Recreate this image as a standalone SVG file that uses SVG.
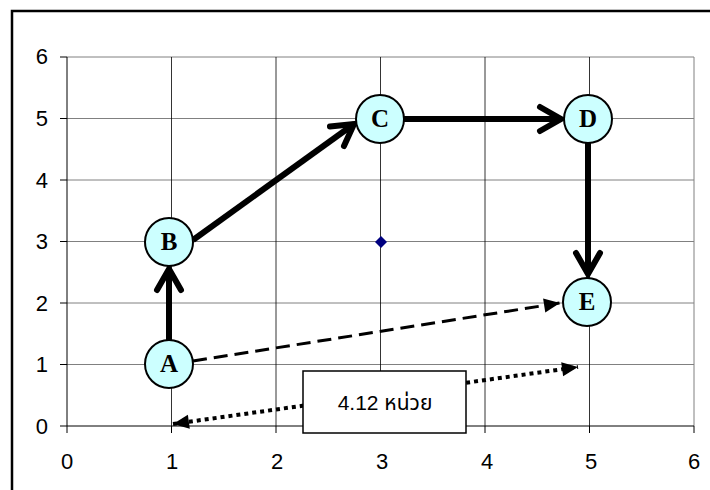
<svg xmlns="http://www.w3.org/2000/svg" width="710" height="490" viewBox="0 0 710 490">
<defs>
<style>
.hgrid{stroke:#808080;stroke-width:1;fill:none}
.vgrid{stroke:#000;stroke-width:0.8;fill:none}
.axis{stroke:#000;stroke-width:1;fill:none}
.tick{font-family:"Liberation Sans",Arial,sans-serif;font-size:22px;fill:#000}
.node circle{fill:#CCFFFF;stroke:#000;stroke-width:2}
.node text{font-family:"Liberation Serif","Times New Roman",serif;font-weight:bold;font-size:25px;fill:#000;text-anchor:middle}
.thick{stroke:#000;stroke-width:6;fill:none;marker-end:url(#chev)}
.dash{stroke:#000;stroke-width:3;fill:none;stroke-dasharray:14 7;marker-end:url(#tri)}
.dot{stroke:#000;stroke-width:4;fill:none;stroke-dasharray:4 4;marker-start:url(#triS);marker-end:url(#tri)}
</style>
<marker id="chev" markerUnits="userSpaceOnUse" markerWidth="40" markerHeight="40" viewBox="-30 -20 40 40" refX="0" refY="0" orient="auto" overflow="visible">
<path d="M-21,-12 L0,0 L-21,12" fill="none" stroke="#000" stroke-width="6" stroke-linecap="round" stroke-linejoin="miter"/>
</marker>
<marker id="tri" markerUnits="userSpaceOnUse" markerWidth="30" markerHeight="30" viewBox="-20 -10 30 20" refX="0" refY="0" orient="auto" overflow="visible">
<path d="M-16,-7 L0,0 L-16,7 Z" fill="#000"/>
</marker>
<marker id="triS" markerUnits="userSpaceOnUse" markerWidth="30" markerHeight="30" viewBox="-10 -10 30 20" refX="0" refY="0" orient="auto" overflow="visible">
<path d="M16,-7 L0,0 L16,7 Z" fill="#000"/>
</marker>
</defs>
<rect x="0" y="0" width="710" height="490" fill="#fff"/>
<path d="M12,490 V11 H710" fill="none" stroke="#000" stroke-width="2.5"/>
<g id="grid">
<path class="hgrid" d="M67,57 H694 M67,118.5 H694 M67,180 H694 M67,241.5 H694 M67,303 H694 M67,364.5 H694"/>
<path class="vgrid" d="M171.5,57 V426 M276,57 V426 M380.5,57 V426 M485,57 V426 M589.5,57 V426"/>
<path class="hgrid" d="M694,57 V426"/>
<path class="axis" d="M67,57 V426 H694"/>
<path class="axis" d="M60,57 H67 M60,118.5 H67 M60,180 H67 M60,241.5 H67 M60,303 H67 M60,364.5 H67 M60,426 H67 M67,426 V433 M171.5,426 V433 M276,426 V433 M380.5,426 V433 M485,426 V433 M589.5,426 V433 M694,426 V433"/>
</g>
<g id="yaxis-labels" class="tick" text-anchor="end">
<text x="48" y="64">6</text>
<text x="48" y="126">5</text>
<text x="48" y="188">4</text>
<text x="48" y="249">3</text>
<text x="48" y="311">2</text>
<text x="48" y="372">1</text>
<text x="48" y="434">0</text>
</g>
<g id="xaxis-labels" class="tick" text-anchor="middle">
<text x="67" y="469">0</text>
<text x="172" y="469">1</text>
<text x="277" y="469">2</text>
<text x="382" y="469">3</text>
<text x="487" y="469">4</text>
<text x="591" y="469">5</text>
<text x="694" y="469">6</text>
</g>
<path id="point" d="M381,236 L387,242 L381,248 L375,242 Z" fill="#000080"/>
<g id="connectors">
<line class="thick" x1="169" y1="340" x2="169" y2="269"/>
<line class="thick" x1="193" y1="240" x2="354" y2="124"/>
<line class="thick" x1="404" y1="119" x2="561" y2="119"/>
<line class="thick" x1="588" y1="143" x2="588" y2="274"/>
<line class="dash" x1="193" y1="361" x2="560" y2="303"/>
<line class="dot" x1="173" y1="424" x2="578" y2="367"/>
</g>
<g id="label">
<rect x="303" y="371" width="163" height="62" fill="#fff" stroke="#000" stroke-width="1.5"/>
<text x="385" y="410" font-family="'Liberation Sans','Noto Sans Thai','Noto Sans',sans-serif" font-size="21" text-anchor="middle">4.12 หน่วย</text>
</g>
<g id="A" class="node"><circle cx="169" cy="364" r="24"/><text x="169" y="372">A</text></g>
<g id="B" class="node"><circle cx="169" cy="242" r="24"/><text x="169" y="250">B</text></g>
<g id="C" class="node"><circle cx="380" cy="119" r="24"/><text x="380" y="127">C</text></g>
<g id="D" class="node"><circle cx="588" cy="119" r="24"/><text x="588" y="127">D</text></g>
<g id="E" class="node"><circle cx="587" cy="302" r="24"/><text x="587" y="310">E</text></g>
</svg>
